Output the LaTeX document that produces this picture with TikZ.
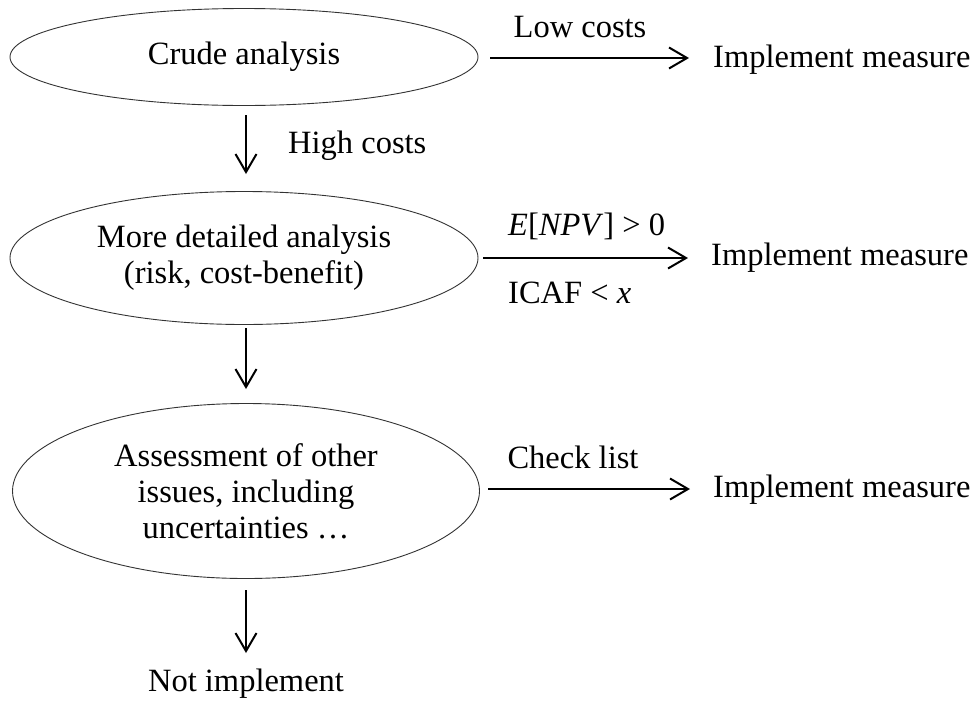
\documentclass[tikz,border=0pt]{standalone}
\usepackage{fontspec}
\setmainfont{Liberation Serif}
\usetikzlibrary{shapes.geometric,arrows.meta}
\begin{document}
\begin{tikzpicture}[x=1pt,y=-1pt,
  every node/.style={font=\fontsize{32.5}{36}\selectfont},
  oval/.style={ellipse,draw=black!80,line width=0.9pt,inner sep=0pt,minimum width=468pt,align=center},
  txt/.style={inner sep=0pt},
  arr/.style={line width=2pt,-{Straight Barb[length=18pt,width=21pt,line width=2pt]}}]
\useasboundingbox (0,0) rectangle (975,702);
% ellipses
\node[oval,minimum height=97pt] (e1) at (244,57) {Crude analysis};
\node[oval,minimum height=133pt] (e2) at (244,258) {More detailed analysis\\(risk, cost-benefit)};
\node[oval,minimum height=175pt,minimum width=467pt] (e3) at (246,491) {Assessment of other\\issues, including\\uncertainties …};
% outcomes
\node[txt,anchor=west] (im1) at (713,60) {Implement measure};
\node[txt,anchor=west] (im2) at (711,258) {Implement measure};
\node[txt,anchor=west] (im3) at (713,490) {Implement measure};
\node[txt] (ni) at (246,684) {Not implement};
% horizontal arrows
\coordinate (a1s) at (490,58);
\coordinate (a1e) at (689,58);
\coordinate (a2s) at (483,258);
\coordinate (a2e) at (688,258);
\coordinate (a3s) at (488,489);
\coordinate (a3e) at (690,489);
\draw[arr] (a1s) -- (a1e);
\draw[arr] (a2s) -- (a2e);
\draw[arr] (a3s) -- (a3e);
% vertical arrows
\coordinate (d1s) at (246,115);
\coordinate (d1e) at (246,174);
\coordinate (d2s) at (246,328);
\coordinate (d2e) at (246,389);
\coordinate (d3s) at (246,590);
\coordinate (d3e) at (246,653);
\draw[arr] (d1s) -- (d1e);
\draw[arr] (d2s) -- (d2e);
\draw[arr] (d3s) -- (d3e);
% labels
\node[txt] (l1) at (580,27) {Low costs};
\node[txt,anchor=west] (l2) at (288,146) {High costs};
\node[txt,anchor=west] (l3) at (508,226) {\textit{E}[\textit{NPV}] > 0};
\node[txt,anchor=west] (l4) at (508,293) {ICAF < \textit{x}};
\node[txt] (l5) at (573,457) {Check list};
\end{tikzpicture}
\end{document}
